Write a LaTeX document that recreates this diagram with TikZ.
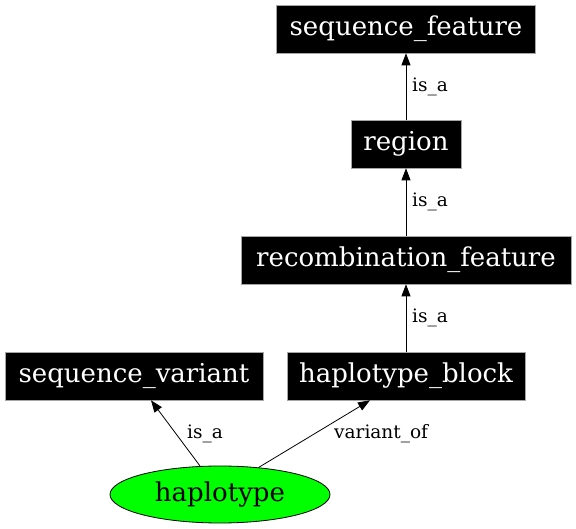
\documentclass[tikz,border=0pt]{standalone}
\usepackage{fontspec}
\setmainfont{DejaVu Serif}
\usetikzlibrary{arrows.meta,shapes.geometric}
\tikzset{
  termbox/.style={rectangle, fill=black, draw=gray!70, line width=0.6pt, text=white,
    font=\fontsize{26}{28}\selectfont, inner sep=0pt, minimum height=48pt},
  hapnode/.style={ellipse, fill=green, draw=black, line width=0.8pt, inner sep=0pt,
    minimum width=220pt, minimum height=57pt, font=\fontsize{26}{28}\selectfont},
  elabel/.style={font=\fontsize{18.5}{20}\selectfont, anchor=west, inner sep=0pt},
  arr/.style={draw=black, line width=0.8pt, -{Triangle[length=12pt,width=9pt]}}
}
\begin{document}
\begin{tikzpicture}[x=1pt,y=-1pt]
\useasboundingbox (0,0) rectangle (576,529);
\node[termbox, minimum width=259pt] (sf) at (406,29) {sequence\_feature};
\node[termbox, minimum width=110pt] (reg) at (406,144) {region};
\node[termbox, minimum width=330pt] (rf) at (406,260) {recombination\_feature};
\node[termbox, minimum width=238pt] (hb) at (406,376) {haplotype\_block};
\node[termbox, minimum width=258pt] (sv) at (134,376) {sequence\_variant};
\node[hapnode] (hap) at (220,494.5) {haplotype};
\draw[arr] (reg.north) -- (sf.south);
\draw[arr] (rf.north) -- (reg.south);
\draw[arr] (hb.north) -- (rf.south);
\draw[arr] (hap.125) -- ([xshift=17pt]sv.south);
\draw[arr] (hap.35) -- ([xshift=-36pt]hb.south);
\node[elabel] (l1) at (412,87) {is\_a};
\node[elabel] (l2) at (412,202) {is\_a};
\node[elabel] (l3) at (412,318) {is\_a};
\node[elabel] (l4) at (187,434) {is\_a};
\node[elabel] (l5) at (334,434) {variant\_of};
\end{tikzpicture}
\end{document}
